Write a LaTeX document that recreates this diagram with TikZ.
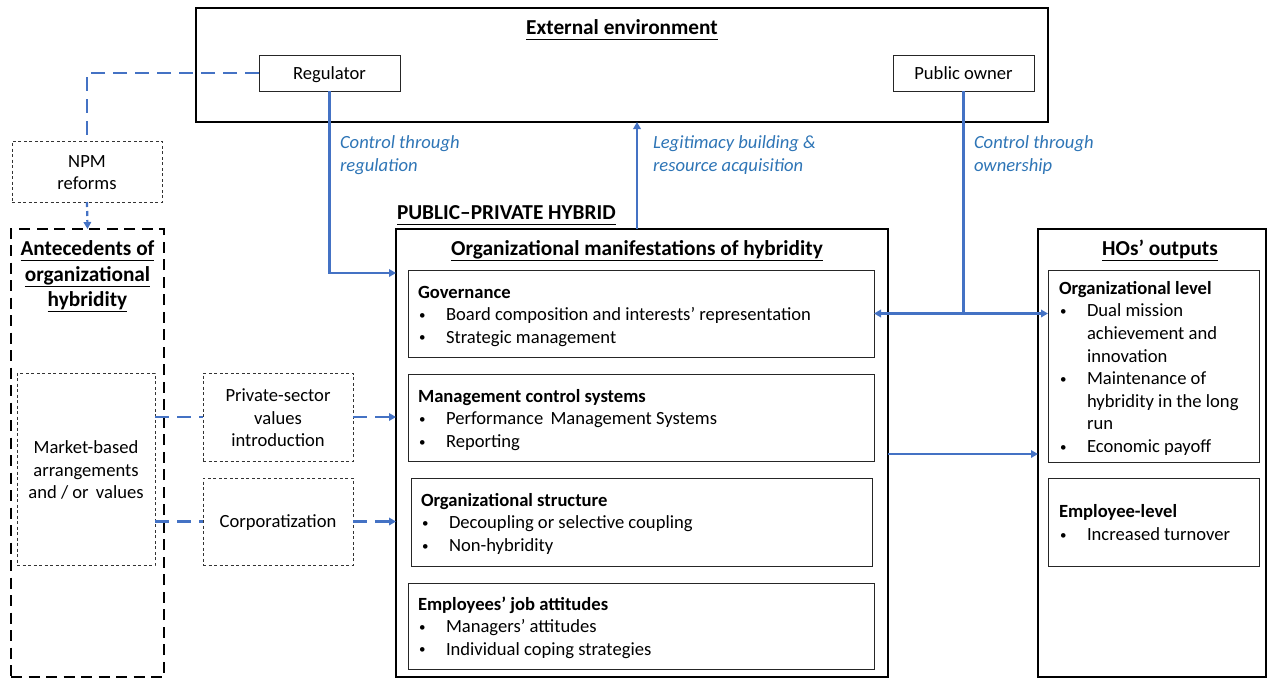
\documentclass[tikz,border=0pt]{standalone}
\usepackage{fontspec}
\setmainfont{Carlito}
\usetikzlibrary{arrows.meta}
\definecolor{linkblue}{RGB}{68,114,196}
\definecolor{labelblue}{RGB}{46,117,182}
\newcommand{\ulx}[1]{\underline{#1\vphantom{gy}}}
\newcommand{\bul}{\makebox[28pt][l]{\hspace{1pt}\raisebox{1.3pt}{\fontsize{13}{13}\selectfont•}}}
\newcommand{\ind}{\hspace*{28pt}}
\newcommand{\bodyfont}{\fontsize{18.6}{22.6}\selectfont}
\newcommand{\headfont}{\fontsize{21.3}{25.5}\selectfont\bfseries}

\begin{document}
\begin{tikzpicture}[x=1pt,y=-1pt,
  every node/.style={inner sep=0pt,outer sep=0pt},
  frame/.style={draw=black,line width=2.6pt,anchor=north west},
  plainbox/.style={draw=black!85,line width=1pt,anchor=north west},
  dotbox/.style={draw=black!80,line width=1pt,dash pattern=on 3pt off 2.5pt,anchor=north west},
  antebox/.style={draw=black,line width=2.6pt,dash pattern=on 11pt off 6.5pt,anchor=north west},
  link/.style={draw=linkblue,line width=2.2pt},
  tip/.style={-{Triangle[length=7pt,width=7.5pt]}},
  dashlink/.style={link,dash pattern=on 14pt off 8pt},
  bodytext/.style={font=\bodyfont,align=left,anchor=north west},
  centertext/.style={font=\bodyfont,align=center},
  linetext/.style={font=\bodyfont,anchor=base,yshift=-6pt},
  flowlabel/.style={font=\bodyfont\itshape,text=labelblue,align=left,anchor=north west},
  headtext/.style={font=\headfont,anchor=base},
]
\useasboundingbox (0,0) rectangle (1267,678);

% ---- external environment ----
\node[frame,minimum width=852pt,minimum height=114pt] (ext) at (196,8) {};
\node[headtext] (exttitle) at (622,34) {\ulx{External environment}};
\node[plainbox,minimum width=141pt,minimum height=36pt] (reg) at (259,55) {};
\node[linetext] (regtext) at (reg.center) {Regulator};
\node[plainbox,minimum width=141pt,minimum height=36pt] (pub) at (893,55) {};
\node[linetext] (pubtext) at (pub.center) {Public owner};

% ---- antecedents ----
\node[dotbox,minimum width=150pt,minimum height=61pt] (npm) at (12,141) {};
\node[centertext] (npmtext) at ([yshift=-1pt]npm.center) {NPM\\reforms};
\node[antebox,minimum width=153pt,minimum height=448pt] (ante) at (11,229) {};
\node[font=\headfont,align=center] (antetitle) at (87.5,276.5)
  {\ulx{Antecedents of}\\\ulx{organizational}\\\ulx{hybridity}};
\node[dotbox,minimum width=138pt,minimum height=192pt] (mkt) at (17,373) {};
\node[centertext] (mkttext) at ([yshift=-1pt]mkt.center) {Market-based\\arrangements\\and / or\, values};
\node[dotbox,minimum width=150pt,minimum height=88pt] (priv) at (203,373) {};
\node[centertext] (privtext) at ([yshift=-1pt]priv.center) {Private-sector\\values\\introduction};
\node[dotbox,minimum width=150pt,minimum height=87pt] (corp) at (203,478) {};
\node[linetext] (corptext) at (corp.center) {Corporatization};

% ---- public-private hybrid ----
\node[font=\headfont,anchor=base west] (pph) at (397,219) {\ulx{PUBLIC–PRIVATE HYBRID}};
\node[frame,minimum width=492pt,minimum height=448pt] (main) at (396,229) {};
\node[headtext] (maintitle) at (637,255) {\ulx{Organizational manifestations of hybridity}};

\node[plainbox,minimum width=466pt,minimum height=87pt] (gov) at (408,270) {};
\node[bodytext] (govtext) at (418,282.2) {\strut\textbf{Governance}\\
  \bul Board composition and interests’ representation\\
  \bul Strategic management};

\node[plainbox,minimum width=466pt,minimum height=87pt] (mcs) at (408,374) {};
\node[bodytext] (mcstext) at (418,386.5) {\strut\textbf{Management control systems}\\
  \bul Performance\, Management Systems\\
  \bul Reporting};

\node[plainbox,minimum width=461pt,minimum height=88pt] (str) at (411,478) {};
\node[bodytext] (strtext) at (421,490.5) {\strut\textbf{Organizational structure}\\
  \bul Decoupling or selective coupling\\
  \bul Non-hybridity};

\node[plainbox,minimum width=466pt,minimum height=86pt] (emp) at (408,583) {};
\node[bodytext] (emptext) at (418,594.2) {\strut\textbf{Employees’ job attitudes}\\
  \bul Managers’ attitudes\\
  \bul Individual coping strategies};

% ---- outputs ----
\node[frame,minimum width=228pt,minimum height=448pt] (hos) at (1038,229) {};
\node[headtext] (hostitle) at (1160,255) {\ulx{HOs’ outputs}};

\node[plainbox,minimum width=211pt,minimum height=192pt] (olev) at (1048,270) {};
\node[bodytext] (olevtext) at (1059,278.5) {\strut\textbf{Organizational level}\\
  \bul Dual mission\\
  \ind achievement and\\
  \ind innovation\\
  \bul Maintenance of\\
  \ind hybridity in the long\\
  \ind run\\
  \bul Economic payoff};

\node[plainbox,minimum width=211pt,minimum height=88pt] (elev) at (1048,478) {};
\node[bodytext] (elevtext) at (1059,501.9) {\strut\textbf{Employee-level}\\
  \bul Increased turnover};

% ---- connectors ----
\draw[dashlink] (reg.west) -| (npm.north);
\draw[dashlink,dash pattern=on 5pt off 4pt,tip] (npm.south) -- (ante.north);
\draw[dashlink] (mkt.east |- priv.west) -- (priv.west);
\draw[dashlink,tip] (priv.east) -- (priv.east -| main.west);
\draw[dashlink] (mkt.east |- corp.west) -- (corp.west);
\draw[dashlink,tip] (corp.east) -- (corp.east -| main.west);

\draw[link,tip] (reg.south) |- ([yshift=-44pt]main.north west);
\draw[link,tip] ([xshift=-5pt]main.north) -- ([xshift=-5pt]main.north |- ext.south);
\draw[link] (pub.south) -- (pub.south |- gov.east);
\draw[link,tip] (pub.south |- gov.east) -- (gov.east);
\draw[link,tip] (pub.south |- gov.east) -- (olev.west |- gov.east);
\draw[link,tip] ([yshift=-225pt]main.north east) -- ([yshift=-225pt]hos.north west);

\node[flowlabel] (lreg) at (340,133) {\strut Control through\\regulation};
\node[flowlabel] (lleg) at (653,133) {\strut Legitimacy building \&\\resource acquisition};
\node[flowlabel] (lown) at (974,133) {\strut Control through\\ownership};
\end{tikzpicture}
\end{document}
